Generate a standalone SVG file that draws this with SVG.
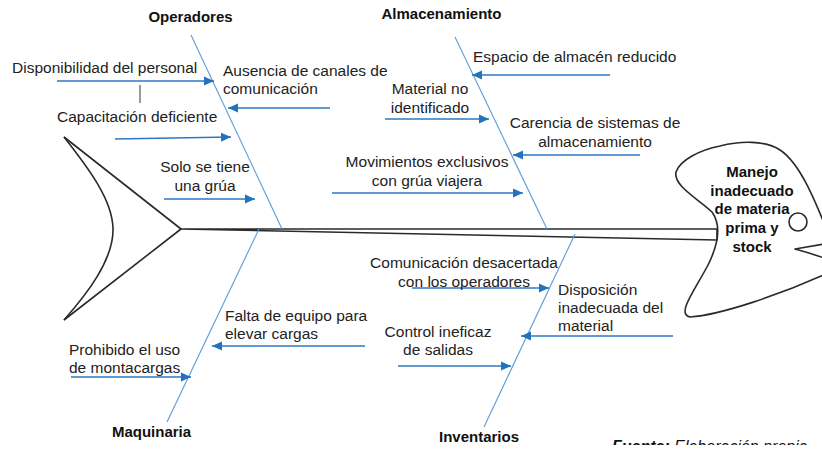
<svg xmlns="http://www.w3.org/2000/svg" width="822" height="450" viewBox="0 0 822 450">
<defs>
<marker id="ah" markerUnits="userSpaceOnUse" markerWidth="11" markerHeight="10" refX="10" refY="5" orient="auto">
<path d="M0,0.5 L10,5 L0,9.5 Z" fill="#2472BD"/>
</marker>
<clipPath id="capclip"><rect x="0" y="438" width="822" height="7"/></clipPath>
<style>
.t{font-family:"Liberation Sans",Arial,sans-serif;font-size:15.5px;fill:#222}
.c{text-anchor:middle}
.b{font-family:"Liberation Sans",Arial,sans-serif;font-size:15px;font-weight:bold;fill:#111;text-anchor:middle}
.br{stroke:#5B9BD5;stroke-width:1.1;fill:none}
.ar{stroke:#2C78C2;stroke-width:1.4;fill:none;marker-end:url(#ah)}
.fish{stroke:#2a2a2a;stroke-width:1.6;fill:none;stroke-linejoin:round}
</style>
</defs>
<rect width="822" height="450" fill="#fff"/>

<g id="tail">
<path class="fish" d="M64,137 L181,229 L64,320"/>
<path class="fish" d="M64,137 C90,170 112,200 113,228 C114,260 86,295 64,320"/>
</g>

<g id="head">
<path class="fish" d="M830,238 C815,200 800,163 780,150 C765,140 740,141 720,146 C700,150 680,160 676,172 C673,186 700,200 712,212 C722,226 718,245 708,265 C695,290 676,314 690,317 C720,315 780,295 830,272"/>
<path class="fish" d="M830,243 L795,249 Q810,253 830,260"/>
<circle cx="798" cy="222" r="9" fill="#fff" stroke="#2a2a2a" stroke-width="1.6"/>
<text class="b" x="752" y="177">Manejo</text>
<text class="b" x="752" y="195.7">inadecuado</text>
<text class="b" x="752" y="214.4">de materia</text>
<text class="b" x="752" y="233.1">prima y</text>
<text class="b" x="752" y="251.8">stock</text>
</g>

<g id="connectors">
<g id="spine">
<path class="fish" d="M181,229 L717,229 L717,240 Z" stroke-width="1.8"/>
</g>
<line class="br" x1="191" y1="35" x2="282" y2="229"/>
<line class="br" x1="455" y1="37" x2="547" y2="229"/>
<line class="br" x1="259" y1="229" x2="167" y2="422"/>
<line class="br" x1="575" y1="234" x2="484" y2="427"/>
<line x1="140" y1="85" x2="140" y2="103" stroke="#555" stroke-width="1.2"/>
<line class="ar" x1="57" y1="81" x2="214" y2="81"/>
<line class="ar" x1="115" y1="139" x2="231" y2="137"/>
<line class="ar" x1="330" y1="108" x2="228" y2="108"/>
<line class="ar" x1="164" y1="199" x2="255" y2="199"/>
<line class="ar" x1="610" y1="75" x2="472" y2="75"/>
<line class="ar" x1="385" y1="119" x2="489" y2="119"/>
<line class="ar" x1="640" y1="155" x2="513" y2="155"/>
<line class="ar" x1="332" y1="193" x2="523" y2="193"/>
<line class="ar" x1="365" y1="346" x2="212" y2="346"/>
<line class="ar" x1="71" y1="377" x2="191" y2="377"/>
<line class="ar" x1="412" y1="288" x2="549" y2="288"/>
<line class="ar" x1="673" y1="336" x2="521" y2="336"/>
<line class="ar" x1="398" y1="366" x2="511" y2="366"/>
</g>

<g id="cat-operadores"><text class="b" x="190.5" y="22">Operadores</text></g>
<g id="cat-almacenamiento"><text class="b" x="441.5" y="19">Almacenamiento</text></g>
<g id="cat-maquinaria"><text class="b" x="151.5" y="437">Maquinaria</text></g>
<g id="cat-inventarios"><text class="b" x="479" y="442">Inventarios</text></g>

<g id="c-disponibilidad"><text class="t" x="12" y="73">Disponibilidad del personal</text></g>
<g id="c-capacitacion"><text class="t" x="57" y="122">Capacitación deficiente</text></g>
<g id="c-ausencia"><text class="t" x="223" y="76">Ausencia de canales de</text><text class="t" x="223" y="94">comunicación</text></g>
<g id="c-grua"><text class="t c" x="205" y="172">Solo se tiene</text><text class="t c" x="205" y="191">una grúa</text></g>
<g id="c-espacio"><text class="t" x="473" y="62">Espacio de almacén reducido</text></g>
<g id="c-material"><text class="t c" x="430" y="94">Material no</text><text class="t c" x="430" y="113">identificado</text></g>
<g id="c-carencia"><text class="t c" x="595" y="128">Carencia de sistemas de</text><text class="t c" x="595" y="147">almacenamiento</text></g>
<g id="c-movimientos"><text class="t c" x="427" y="167">Movimientos exclusivos</text><text class="t c" x="427" y="186">con grúa viajera</text></g>
<g id="c-falta"><text class="t" x="225" y="321">Falta de equipo para</text><text class="t" x="225" y="339">elevar cargas</text></g>
<g id="c-prohibido"><text class="t" x="69" y="355">Prohibido el uso</text><text class="t" x="69" y="373">de montacargas</text></g>
<g id="c-comunicacion"><text class="t c" x="464" y="268">Comunicación desacertada</text><text class="t c" x="464" y="287">con los operadores</text></g>
<g id="c-disposicion"><text class="t" x="558" y="295">Disposición</text><text class="t" x="558" y="313">inadecuada del</text><text class="t" x="558" y="331">material</text></g>
<g id="c-control"><text class="t c" x="438" y="337">Control ineficaz</text><text class="t c" x="438" y="355">de salidas</text></g>

<g id="caption" clip-path="url(#capclip)">
<text x="612" y="452" font-family="Liberation Sans, Arial, sans-serif" font-size="16" font-style="italic" fill="#111"><tspan font-weight="bold">Fuente:</tspan> Elaboración propia</text>
</g>
</svg>
